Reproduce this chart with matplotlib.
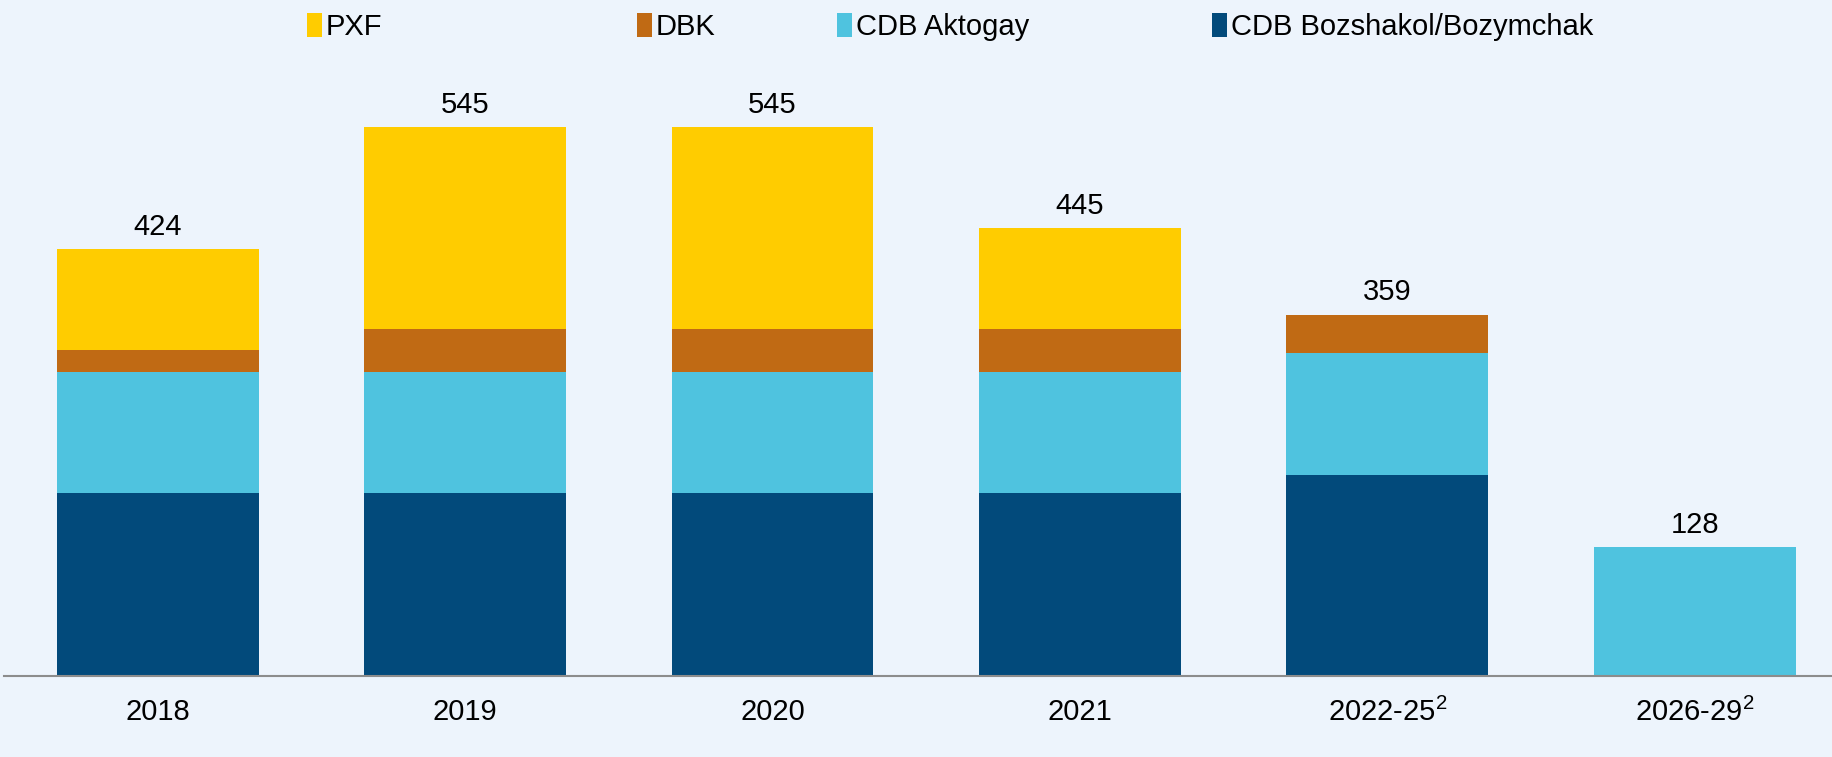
import matplotlib.pyplot as plt
import numpy as np
from matplotlib.patches import Patch

plt.rcParams['font.family'] = ['Liberation Sans', 'DejaVu Sans']
plt.rcParams['mathtext.default'] = 'regular'

periods = ['2018', '2019', '2020', '2021', '2022-25$^2$', '2026-29$^2$']
bozshakol = [182, 182, 182, 182, 200, 0]
aktogay = [120, 120, 120, 120, 121, 128]
dbk = [22, 43, 43, 43, 38, 0]
pxf = [100, 200, 200, 100, 0, 0]
totals = [424, 545, 545, 445, 359, 128]

series = [
    ('CDB Bozshakol/Bozymchak', bozshakol, '#024A7B'),
    ('CDB Aktogay', aktogay, '#4FC3DF'),
    ('DBK', dbk, '#C06A14'),
    ('PXF', pxf, '#FFCC00'),
]

bg = '#EDF4FC'
fs = 21
fig = plt.figure(figsize=(18.33, 7.57), dpi=100, facecolor=bg)
ax = fig.add_axes([4 / 1833, 81 / 757, 1 - 4 / 1833, 616 / 757])
ax.set_facecolor(bg)

x = np.arange(len(periods))
bottom = np.zeros(len(periods))
for name, vals, color in series:
    vals = np.array(vals, dtype=float)
    ax.bar(x, vals, width=0.657, bottom=bottom, color=color, label=name)
    bottom += vals

for xi, t in zip(x, totals):
    ax.annotate(str(t), (xi, t), xytext=(0, 6), textcoords='offset points',
                ha='center', va='bottom', fontsize=fs)

ax.set_xlim(-0.5, 5.45)
ax.set_ylim(0, 612)
ax.set_xticks(x)
ax.set_xticklabels(periods, fontsize=fs)
ax.tick_params(axis='x', length=0, pad=15.5)
ax.set_yticks([])
for s in ['top', 'right', 'left']:
    ax.spines[s].set_visible(False)
ax.spines['bottom'].set_color('#8C8C8C')
ax.spines['bottom'].set_linewidth(1.5)

# legend entries sit at fixed spots across the top
legend_pos = {'PXF': 307, 'DBK': 637, 'CDB Aktogay': 837, 'CDB Bozshakol/Bozymchak': 1212}
for name, vals, color in series:
    h = Patch(facecolor=color, label=name)
    fig.legend(handles=[h], loc='center left',
               bbox_to_anchor=(legend_pos[name] / 1833, 1 - 27 / 757),
               frameon=False, fontsize=fs, handlelength=0.5, handleheight=0.85,
               handletextpad=0.15, borderpad=0, borderaxespad=0)

fig.savefig('out.png', dpi=100, facecolor=bg)
